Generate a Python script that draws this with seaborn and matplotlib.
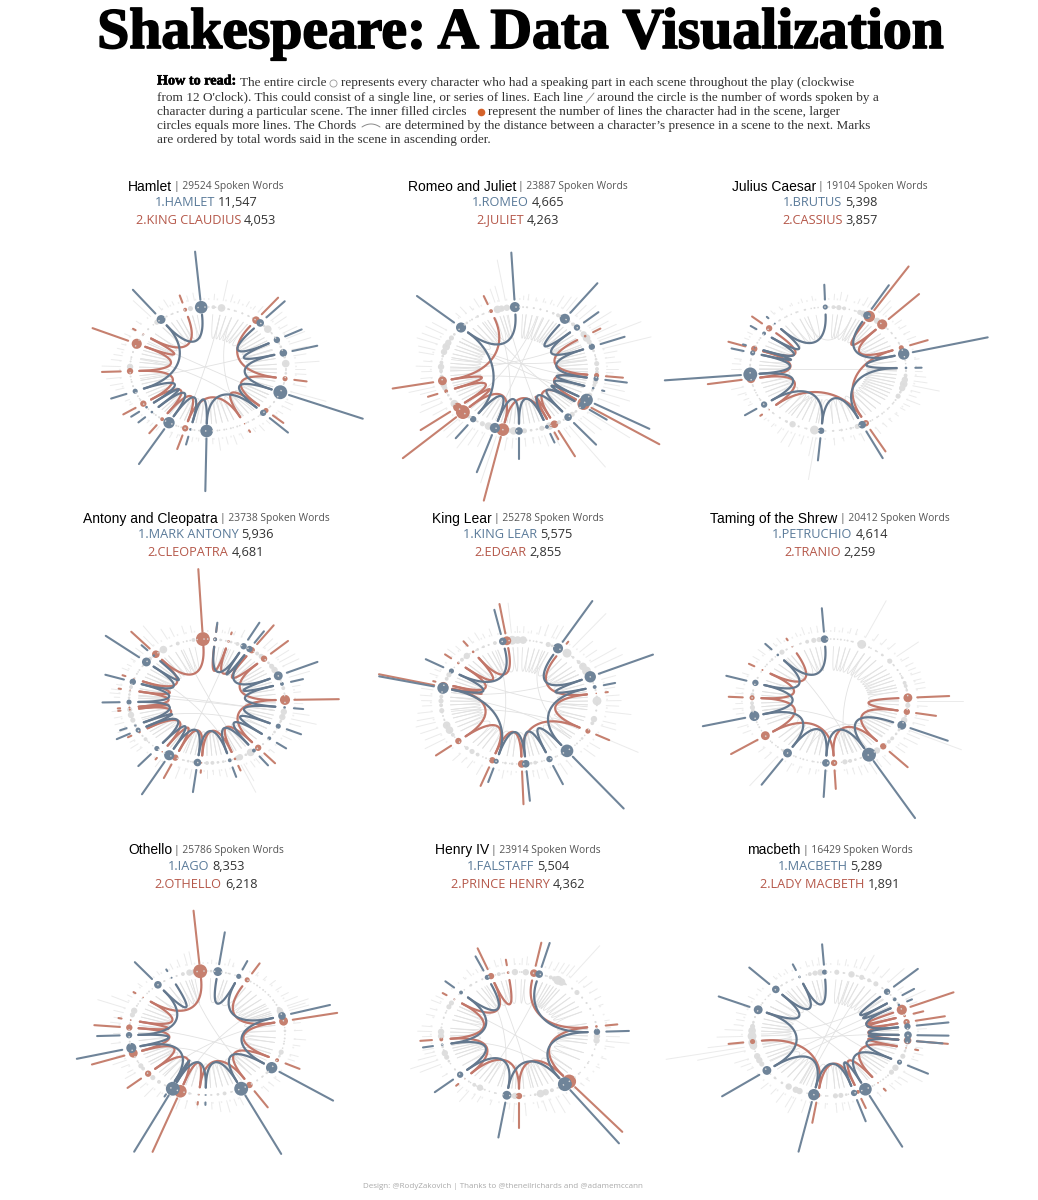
import numpy as np
import pandas as pd
import matplotlib
matplotlib.use("Agg")
import matplotlib.pyplot as plt
import matplotlib.patheffects as pe
import seaborn as sns

# marks are (clock angle of the scene, words spoken, lines spoken)
hamlet_blue = [(42,350,36),(62,240,25),(75,330,36),(112,1020,121),(135,330,25),(181,850,100),(193,130,4),(210,650,81),(226,120,4),(232,130,4),(249,210,16),(323,480,49),(355,780,100)]
hamlet_red = [(38,340,36),(99,160,16),(132,180,16),(152,30,1),(197,230,25),(216,160,9),(236,190,25),(268,240,25),(294,500,64),(304,40,2),(343,120,9)]
hamlet_grey = [(4,90,9),(10,330,36),(15,120,2),(20,70,2),(26,90,2),(31,60,2),(35,110,2),(46,200,4),(50,190,36),(55,120,2),(59,210,2),(64,260,9),(69,290,4),(74,200,25),(79,160,4),(85,310,36),(90,120,2),(94,140,4),(103,170,2),(109,480,2),(118,110,2),(122,130,2),(127,80,2),(131,60,2),(138,70,2),(144,110,2),(149,60,2),(158,90,2),(163,150,2),(168,120,2),(173,200,2),(177,90,2),(186,50,2),(190,70,2),(200,60,2),(204,90,2),(214,70,2),(219,60,2),(222,50,2),(240,40,2),(244,60,2),(254,110,2),(258,160,2),(263,190,2),(272,240,25),(277,130,2),(281,110,2),(286,90,2),(290,60,2),(298,90,2),(303,60,2),(310,80,2),(319,340,16),(328,70,2),(333,130,2),(337,60,2),(347,90,16),(351,120,2)]
hamlet_cross = [(70,260),(118,300),(140,280),(20,150),(10,200)]

romeo_blue = [(36,590,64),(48,250,25),(69,330,25),(99,280,16),(108,30,4),(120,810,100),(126,270,36),(141,450,36),(159,150,9),(180,330,36),(198,630,64),(216,260,25),(312,640,64),(357,760,64)]
romeo_red = [(58,110,4),(96,220,16),(124,1050,100),(153,460,36),(156,120,4),(192,1050,100),(226,950,121),(232,480,49),(249,130,9),(259,530,49),(339,140,9)]
romeo_grey = [(3,60,2),(6,90,2),(11,50,2),(16,60,2),(21,70,2),(26,190,4),(30,220,9),(33,250,16),(40,220,4),(44,300,9),(52,380,2),(56,260,25),(60,320,36),(64,620,16),(66,300,2),(73,650,4),(77,170,2),(81,120,4),(85,190,16),(90,150,9),(93,90,9),(102,200,16),(105,280,9),(110,390,4),(115,300,16),(128,680,9),(133,320,4),(137,300,16),(145,810,2),(149,160,9),(157,220,36),(163,180,16),(167,120,2),(171,90,4),(176,130,16),(184,160,36),(188,200,16),(195,780,36),(203,240,36),(208,270,16),(212,380,2),(220,320,9),(224,270,16),(236,210,36),(241,330,4),(245,260,4),(252,210,16),(255,340,25),(263,150,9),(268,130,9),(272,200,25),(276,110,9),(282,190,4),(286,220,25),(291,280,36),(295,250,25),(300,260,16),(304,220,4),(318,90,4),(323,130,2),(328,70,4),(333,150,2),(344,220,36),(347,250,25),(351,660,25)]
romeo_cross = [(20,200),(350,160),(60,270),(100,300),(15,230),(330,130),(280,80),(260,110),(340,190),(300,120)]

caesar_blue = [(30,440,36),(76,990,81),(89,80,4),(154,480,36),(185,360,25),(235,180,25),(265,980,121),(285,160,16),(290,40,1),(305,90,9),(317,30,2),(358,240,16)]
caesar_red = [(32,830,81),(44,560,64),(70,240,16),(151,400,25),(229,30,1),(261,440,49),(289,230,25),(311,170,25)]
caesar_grey = [(4,90,9),(8,130,16),(12,100,9),(20,80,2),(24,140,16),(27,110,25),(36,240,2),(39,170,25),(50,110,2),(55,100,2),(60,90,2),(65,120,2),(82,60,2),(92,90,2),(96,140,9),(100,170,25),(104,350,36),(108,120,25),(112,100,4),(116,190,16),(120,90,2),(124,70,2),(130,60,2),(136,60,2),(141,80,2),(147,120,2),(158,130,16),(163,70,4),(170,60,4),(176,110,2),(188,680,2),(190,300,49),(196,140,2),(202,230,2),(207,210,25),(212,100,4),(218,60,2),(225,40,2),(240,60,2),(245,70,2),(250,110,2),(255,160,2),(270,130,4),(274,110,2),(278,90,2),(295,60,2),(300,70,2),(322,70,2),(328,60,2),(336,40,2),(343,60,2),(350,70,2)]
caesar_cross = [(90,270),(150,215),(20,340)]

antony_blue = [(6,150,9),(28,310,25),(33,220,25),(66,430,49),(74,160,9),(96,120,4),(114,200,16),(127,150,9),(143,180,9),(163,160,9),(187,360,36),(209,600,64),(220,250,16),(242,190,16),(247,90,4),(269,220,16),(288,250,25),(309,550,49),(317,110,4)]
antony_red = [(6,120,9),(16,30,4),(35,370,25),(47,300,25),(89,570,64),(139,210,25),(159,80,4),(184,40,1),(204,240,25),(215,30,1),(240,50,4),(262,30,2),(264,30,2),(280,30,1),(291,40,2),(319,360,36),(357,1010,121)]
antony_grey = [(10,40,4),(14,100,2),(18,60,4),(23,120,9),(40,190,9),(44,180,16),(52,210,4),(56,240,16),(60,240,25),(70,280,4),(78,100,9),(83,90,2),(92,110,2),(100,210,25),(105,330,25),(109,150,4),(120,130,4),(134,80,2),(146,90,36),(150,110,4),(155,300,25),(157,480,16),(168,130,4),(172,100,4),(176,70,9),(180,120,9),(190,150,4),(194,90,4),(198,190,2),(212,130,9),(228,90,2),(232,120,9),(236,70,2),(246,130,4),(252,120,16),(257,100,25),(262,110,16),(273,70,4),(276,130,4),(279,120,4),(283,70,9),(296,90,2),(300,60,2),(305,70,2),(313,130,9),(322,200,4),(326,340,36),(333,180,2),(338,150,9),(345,130,2),(350,110,9)]
antony_cross = [(300,160),(20,200),(280,100),(250,120),(340,150),(100,275)]

lear_blue = [(30,760,64),(66,760,81),(76,150,9),(142,1060,100),(157,320,25),(175,480,36),(197,230,16),(283,720,81),(300,260,16),(348,400,36)]
lear_red = [(33,40,1),(82,30,1),(118,190,16),(178,530,36),(200,320,25),(231,250,25),(284,730,64),(287,30,1),(309,100,4),(324,90,4),(351,480,49)]
lear_grey = [(3,100,36),(8,40,2),(13,130,2),(17,180,2),(22,210,16),(25,230,4),(38,690,49),(44,240,4),(50,180,9),(55,400,36),(60,410,49),(71,190,2),(79,130,2),(85,170,2),(89,190,49),(93,160,2),(98,330,2),(106,170,25),(110,200,9),(118,610,2),(126,160,4),(132,190,2),(147,130,2),(152,200,2),(163,170,2),(168,140,9),(171,100,4),(185,60,4),(190,130,4),(205,170,2),(212,130,9),(217,100,16),(222,150,9),(238,300,9),(243,230,36),(248,240,36),(253,260,2),(257,220,2),(262,190,16),(267,120,9),(271,130,16),(275,150,9),(280,150,25),(292,110,9),(296,80,16),(313,130,9),(318,90,25),(328,110,4),(333,130,4),(337,70,2),(342,120,9),(355,480,49),(359,100,36)]
lear_cross = [(60,280),(95,300),(20,130),(340,200),(275,130),(120,260)]

shrew_blue = [(113,520,49),(150,1060,121),(183,430,36),(213,490,49),(256,560,64),(287,270,25),(318,120,4),(356,380,36)]
shrew_red = [(87,410,49),(100,260,25),(137,340,25),(177,300,25),(236,410,49),(273,180,16),(300,80,2),(331,30,1)]
shrew_grey = [(3,70,2),(8,70,2),(13,80,2),(17,90,2),(24,650,49),(30,120,2),(36,110,2),(42,130,4),(50,360,16),(55,110,2),(60,110,2),(64,100,2),(68,130,4),(73,100,9),(76,130,9),(80,120,4),(90,580,9),(94,130,16),(104,180,4),(108,160,25),(115,740,4),(118,180,4),(122,200,4),(127,120,9),(131,150,9),(143,170,25),(148,130,25),(153,200,2),(157,130,2),(161,140,4),(165,100,9),(169,80,16),(189,70,2),(193,90,2),(200,110,2),(206,140,2),(217,590,4),(222,130,2),(228,110,2),(245,110,2),(250,140,2),(260,100,16),(264,130,16),(268,90,9),(276,100,9),(280,100,2),(292,90,2),(306,100,2),(312,120,4),(322,60,16),(326,100,2),(338,60,2),(343,120,9),(348,90,16),(352,100,16)]
shrew_cross = [(30,165),(320,160),(200,130),(260,140)]

othello_blue = [(8,520,49),(24,150,16),(74,520,36),(124,830,81),(154,1050,121),(181,40,2),(206,1010,121),(208,40,1),(256,600,64),(268,290,25),(321,350,36),(333,30,2)]
othello_red = [(31,190,16),(79,580,49),(116,200,9),(147,310,25),(186,40,1),(200,920,100),(229,230,25),(251,440,49),(275,330,25),(282,40,1),(305,30,1),(355,860,121)]
othello_grey = [(3,60,4),(14,110,2),(17,60,2),(34,60,2),(40,70,2),(46,100,2),(52,90,2),(58,110,2),(63,180,2),(67,290,9),(69,230,25),(71,260,25),(82,90,2),(88,100,4),(95,150,2),(100,90,2),(108,110,16),(112,90,4),(130,100,4),(135,90,2),(140,110,2),(158,130,4),(162,110,2),(167,190,9),(172,160,4),(177,110,2),(186,100,2),(193,130,4),(198,170,25),(212,90,2),(218,180,9),(224,110,16),(235,160,9),(238,80,16),(243,110,2),(247,190,2),(252,100,2),(262,120,2),(270,90,2),(278,130,2),(282,100,2),(287,130,16),(291,380,25),(296,240,2),(301,70,2),(312,70,2),(327,60,2),(337,90,2),(342,120,9),(347,190,25),(350,210,16)]
othello_cross = [(60,200),(345,140),(275,120),(250,150),(80,220)]

henry_blue = [(15,400,36),(88,290,25),(144,1060,121),(189,570,49),(229,310,25),(260,130,4),(312,150,9),(336,250,16)]
henry_red = [(11,380,36),(83,150,4),(140,940,121),(180,390,25),(224,40,1),(265,150,9),(304,60,2),(339,360,25),(352,90,4)]
henry_grey = [(2,100,2),(5,130,25),(20,120,2),(24,140,9),(27,160,16),(30,170,49),(33,190,36),(36,640,4),(43,150,2),(48,140,16),(54,120,2),(60,90,2),(66,60,2),(79,60,2),(85,60,2),(92,170,25),(96,300,25),(100,120,2),(110,70,2),(118,50,2),(130,60,2),(135,60,2),(150,190,2),(155,280,9),(160,230,25),(164,170,36),(168,100,4),(176,200,2),(183,300,25),(186,100,9),(198,80,2),(206,100,2),(210,90,25),(215,210,9),(220,110,2),(235,80,2),(244,290,4),(248,380,16),(252,240,25),(255,130,2),(258,140,4),(268,120,25),(272,180,25),(276,130,2),(285,110,2),(290,90,2),(296,130,16),(300,110,16),(322,40,4),(327,110,2),(332,60,2),(345,110,9),(349,120,2),(357,100,25)]
henry_cross = [(20,210),(330,195),(300,130),(340,170),(260,145)]

macbeth_blue = [(47,420,25),(56,180,9),(62,70,4),(83,410,25),(91,400,36),(96,330,25),(117,290,16),(153,920,100),(162,360,25),(192,820,81),(234,590,49),(293,430,49),(316,370,36),(337,100,4),(356,330,16)]
macbeth_red = [(67,600,64),(73,130,4),(79,380,25),(96,400,36),(103,40,1),(142,40,1),(159,160,9),(189,330,16),(263,190,16)]
macbeth_grey = [(5,80,16),(10,100,2),(16,130,25),(20,200,2),(24,270,16),(30,130,9),(36,180,16),(42,300,2),(51,90,2),(60,290,2),(65,110,2),(86,120,2),(101,90,2),(106,120,4),(111,90,16),(123,290,25),(128,140,16),(132,110,2),(137,100,2),(147,80,2),(168,130,4),(172,120,16),(176,150,16),(183,80,2),(196,200,2),(203,260,25),(206,190,25),(212,180,25),(218,110,4),(225,130,4),(241,90,16),(245,140,25),(249,190,25),(256,630,2),(259,1020,36),(262,460,49),(268,330,49),(273,230,36),(277,120,16),(281,100,4),(286,130,2),(292,70,2),(300,90,2),(308,60,2),(322,60,2),(326,60,2),(331,70,2),(345,90,9),(349,90,16),(353,120,25)]
macbeth_cross = [(30,200),(15,205),(60,240),(50,270),(300,145),(260,90),(70,230),(320,120)]

plays = ["Hamlet", "Romeo and Juliet", "Julius Caesar", "Antony and Cleopatra", "King Lear",
         "Taming of the Shrew", "Othello", "Henry IV", "macbeth"]
total_words = [29524, 23887, 19104, 23738, 25278, 20412, 25786, 23914, 16429]
first_names = ["HAMLET", "ROMEO", "BRUTUS", "MARK ANTONY", "KING LEAR", "PETRUCHIO", "IAGO", "FALSTAFF", "MACBETH"]
first_words = ["11,547", "4,665", "5,398", "5,936", "5,575", "4,614", "8,353", "5,504", "5,289"]
second_names = ["KING CLAUDIUS", "JULIET", "CASSIUS", "CLEOPATRA", "EDGAR", "TRANIO", "OTHELLO", "PRINCE HENRY", "LADY MACBETH"]
second_words = ["4,053", "4,263", "3,857", "4,681", "2,855", "2,259", "6,218", "4,362", "1,891"]

all_blue = [hamlet_blue, romeo_blue, caesar_blue, antony_blue, lear_blue, shrew_blue, othello_blue, henry_blue, macbeth_blue]
all_red = [hamlet_red, romeo_red, caesar_red, antony_red, lear_red, shrew_red, othello_red, henry_red, macbeth_red]
all_grey = [hamlet_grey, romeo_grey, caesar_grey, antony_grey, lear_grey, shrew_grey, othello_grey, henry_grey, macbeth_grey]
all_cross = [hamlet_cross, romeo_cross, caesar_cross, antony_cross, lear_cross, shrew_cross, othello_cross, henry_cross, macbeth_cross]

# layout in pixels
W, H = 1038, 1200
RX, RY = 78, 62
centre_x = [208, 519, 828, 207, 519, 830, 207, 519, 830]
centre_y = [369, 369, 369, 701, 702, 701, 1033, 1034, 1034]
header_x = [206, 518, 830]
header_y = [(187, 203, 220), (519, 535, 552), (850, 867, 884)]

BLUE, RED, GREY = "#6f8499", "#c6806f", "#dedede"
BLUE_TXT, RED_TXT = "#5a7a99", "#b5584a"

sns.set_theme(style="white")
plt.rcParams["font.family"] = ["Liberation Sans", "DejaVu Sans"]


def point(angle, r):
    rad = np.radians(angle)
    return r * np.sin(rad), r * np.cos(rad)


def spike_frame(marks, base=1.12):
    rows = []
    for i, (angle, words, _) in enumerate(marks):
        for r in (base, base + words / 1000):
            x, y = point(angle, r)
            rows.append({"id": i, "x": x, "y": y})
    return pd.DataFrame(rows)


def chord_rows(a, b, uid, r=0.88, k=0.42):
    t = np.linspace(0, 1, 30)
    p0 = np.array(point(a, r))
    p3 = np.array(point(b, r))
    p1, p2 = p0 * k, p3 * k
    curve = np.outer((1 - t) ** 3, p0) + np.outer(3 * (1 - t) ** 2 * t, p1) \
        + np.outer(3 * (1 - t) * t ** 2, p2) + np.outer(t ** 3, p3)
    return pd.DataFrame({"id": uid, "x": curve[:, 0], "y": curve[:, 1]})


def chord_frame(marks, extra=()):
    angles = sorted(m[0] for m in marks)
    pairs = list(zip(angles[:-1], angles[1:])) + list(extra)
    return pd.concat([chord_rows(a, b, i) for i, (a, b) in enumerate(pairs)])


def dot_frame(marks):
    rows = []
    for angle, _, lines in marks:
        x, y = point(angle, 1.0)
        rows.append({"x": x, "y": y, "lines": lines})
    return pd.DataFrame(rows)


def draw_lines(df, ax, color, lw, alpha=1.0):
    sns.lineplot(data=df, x="x", y="y", units="id", estimator=None, sort=False, color=color,
                 linewidth=lw, alpha=alpha, legend=False, errorbar=None, ax=ax)


def draw_dots(df, ax, color):
    sns.scatterplot(data=df, x="x", y="y", size="lines", sizes=(1.2, 100), size_norm=(1, 121),
                    color=color, linewidth=0, legend=False, ax=ax)


fig = plt.figure(figsize=(W / 100, H / 100), dpi=100, facecolor="white")
ring_t = np.linspace(0, 2 * np.pi, 300)

for n in range(9):
    ax = fig.add_axes([(centre_x[n] - 3 * RX) / W, 1 - (centre_y[n] + 3 * RY) / H, 6 * RX / W, 6 * RY / H])
    blue, red, grey = all_blue[n], all_red[n], all_grey[n]

    # dotted guide rings
    ax.plot(np.sin(ring_t), np.cos(ring_t), color="#dcdcdc", lw=1.0, ls=(0, (1, 4)))
    ax.plot(1.13 * np.sin(ring_t), 1.13 * np.cos(ring_t), color="#efefef", lw=1.3, ls=(0, (0.8, 4)))

    draw_lines(chord_frame(grey, all_cross[n]), ax, "#e2e2e2", 0.6)
    draw_lines(spike_frame(grey), ax, "#ebebeb", 0.7)
    draw_dots(dot_frame(grey), ax, GREY)

    draw_lines(chord_frame(red), ax, "#c2776a", 1.6)
    draw_lines(spike_frame(red), ax, RED, 1.5)
    draw_dots(dot_frame(red), ax, RED)
    draw_lines(chord_frame(blue), ax, "#64788e", 1.6)
    draw_lines(spike_frame(blue), ax, BLUE, 1.5)
    draw_dots(dot_frame(blue), ax, BLUE)

    ax.set_xlim(-3, 3)
    ax.set_ylim(-3, 3)
    ax.set_axis_off()

# overlay in pixel units for all the text
top = fig.add_axes([0, 0, 1, 1], zorder=10)
top.set_xlim(0, W)
top.set_ylim(H, 0)
top.set_axis_off()
renderer = fig.canvas.get_renderer()


def width_of(t):
    return t.get_window_extent(renderer).width


def centred_row(cx, y, parts, gap=3):
    items = [top.text(0, y, s, color=c, fontsize=fs, family=fam, va="center", ha="left") for s, c, fs, fam in parts]
    widths = [width_of(t) for t in items]
    x = cx - (sum(widths) + gap * (len(items) - 1)) / 2
    for t, w in zip(items, widths):
        t.set_x(x)
        x += w + gap


title = top.text(520, 34, "Shakespeare: A Data Visualization", family="Liberation Serif", weight="bold",
                 fontsize=40, color="black", ha="center", va="center",
                 path_effects=[pe.withStroke(linewidth=1.2, foreground="black")])
title.set_fontsize(40 * 846 / width_of(title))

top.text(157, 81, "How to read:", family="Liberation Serif", weight="bold", fontsize=10.2, color="black",
         va="center", path_effects=[pe.withStroke(linewidth=0.4, foreground="black")])
body_pieces = [
    (240, 83, "The entire circle"),
    (341, 83, "represents every character who had a speaking part in each scene throughout the play (clockwise"),
    (157, 98, "from 12 O'clock). This could consist of a single line, or series of lines. Each line"),
    (597, 98, "around the circle is the number of words spoken by a"),
    (157, 112, "character during a particular scene. The inner filled circles"),
    (488, 112, "represent the number of lines the character had in the scene, larger"),
    (157, 126, "circles equals more lines. The Chords"),
    (385, 126, "are determined by the distance between a character\u2019s presence in a scene to the next. Marks"),
    (157, 140, "are ordered by total words said in the scene in ascending order."),
]
for x, y, s in body_pieces:
    t = top.text(x, y, s, family="Liberation Serif", fontsize=9.5, color="#333333", va="center")

# small legend glyphs inside the explanation
top.scatter([333], [83], s=26, facecolor="white", edgecolor="#999999", linewidth=0.6)
top.plot([586, 594], [103, 93], color="#999999", lw=0.7)
top.scatter([481], [112], s=30, color="#d4622a", linewidth=0)
arc_t = np.linspace(-1, 1, 30)
top.plot(371 + 9 * arc_t, 125 + 3 * arc_t ** 2 - 1, color="#888888", lw=0.7)

for n in range(9):
    cx = header_x[n % 3]
    y1, y2, y3 = header_y[n // 3]
    centred_row(cx, y1, [(plays[n], "black", 10, "Liberation Sans"),
                         ("| %d Spoken Words" % total_words[n], "#555555", 7.4, "Open Sans")], gap=2)
    centred_row(cx, y2, [("1." + first_names[n], BLUE_TXT, 9.2, "Open Sans"),
                         (first_words[n], "#333333", 9.2, "Open Sans")])
    centred_row(cx, y3, [("2." + second_names[n], RED_TXT, 9.2, "Open Sans"),
                         (second_words[n], "#333333", 9.2, "Open Sans")])

top.text(503, 1187, "Design: @RodyZakovich | Thanks to @theneilrichards and @adamemccann", family="Open Sans",
         fontsize=5.8, color="#aaaaaa", ha="center", va="center")

fig.savefig("out.png", dpi=100, facecolor="white")
